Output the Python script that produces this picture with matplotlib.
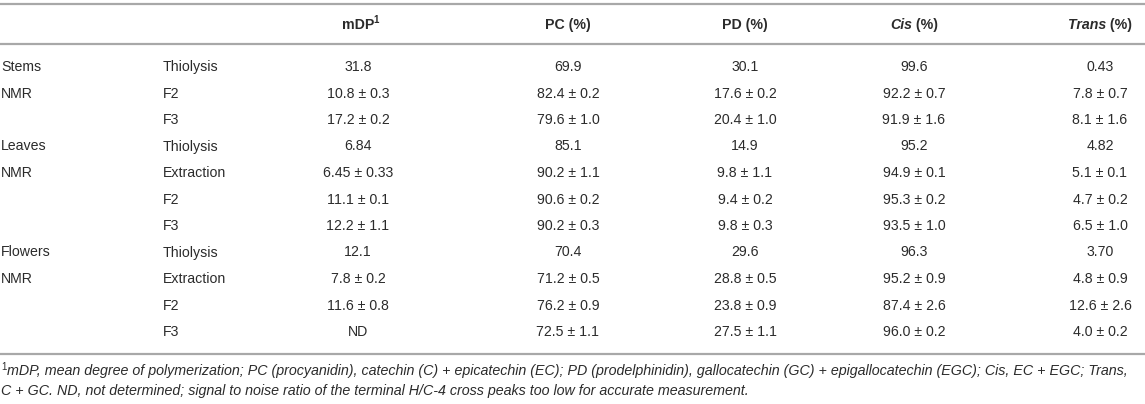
import matplotlib
matplotlib.use("Agg")
import matplotlib.pyplot as plt

plt.rcParams['font.family'] = ['Liberation Sans', 'DejaVu Sans']

groups = ["Stems", "NMR", "", "Leaves", "NMR", "", "", "Flowers", "NMR", "", ""]
methods = ["Thiolysis", "F2", "F3", "Thiolysis", "Extraction", "F2", "F3",
           "Thiolysis", "Extraction", "F2", "F3"]
mdp = ["31.8", "10.8 ± 0.3", "17.2 ± 0.2", "6.84", "6.45 ± 0.33", "11.1 ± 0.1",
       "12.2 ± 1.1", "12.1", "7.8 ± 0.2", "11.6 ± 0.8", "ND"]
pc = ["69.9", "82.4 ± 0.2", "79.6 ± 1.0", "85.1", "90.2 ± 1.1", "90.6 ± 0.2",
      "90.2 ± 0.3", "70.4", "71.2 ± 0.5", "76.2 ± 0.9", "72.5 ± 1.1"]
pd_ = ["30.1", "17.6 ± 0.2", "20.4 ± 1.0", "14.9", "9.8 ± 1.1", "9.4 ± 0.2",
       "9.8 ± 0.3", "29.6", "28.8 ± 0.5", "23.8 ± 0.9", "27.5 ± 1.1"]
cis = ["99.6", "92.2 ± 0.7", "91.9 ± 1.6", "95.2", "94.9 ± 0.1", "95.3 ± 0.2",
       "93.5 ± 1.0", "96.3", "95.2 ± 0.9", "87.4 ± 2.6", "96.0 ± 0.2"]
trans = ["0.43", "7.8 ± 0.7", "8.1 ± 1.6", "4.82", "5.1 ± 0.1", "4.7 ± 0.2",
         "6.5 ± 1.0", "3.70", "4.8 ± 0.9", "12.6 ± 2.6", "4.0 ± 0.2"]
footnote1 = ("mDP, mean degree of polymerization; PC (procyanidin), catechin (C) + epicatechin (EC); "
             "PD (prodelphinidin), gallocatechin (GC) + epigallocatechin (EGC); Cis, EC + EGC; Trans,")
footnote2 = ("C + GC. ND, not determined; signal to noise ratio of the terminal H/C-4 cross peaks "
             "too low for accurate measurement.")

W, H = 1145, 404
fig = plt.figure(figsize=(W / 100, H / 100), dpi=100)
ax = fig.add_axes([0, 0, 1, 1])
ax.set_xlim(0, W)
ax.set_ylim(H, 0)
ax.axis('off')

TXT = '#2b2b2b'
LINE = '#a8a8a8'
FS = 10.2

for y in (4, 44, 354):
    ax.plot([0, W], [y, y], color=LINE, lw=1.6, solid_capstyle='butt')

renderer = fig.canvas.get_renderer()


def segments(x, y, segs, fs=FS):
    """Draw centered text composed of (text, style) segments."""
    arts = []
    for s, style in segs:
        t = ax.text(0, y, s, fontsize=fs, fontweight='bold', fontstyle=style,
                    color=TXT, va='center', ha='left')
        arts.append(t)
    widths = []
    inv = ax.transData.inverted()
    for t in arts:
        bb = t.get_window_extent(renderer)
        p0 = inv.transform((bb.x0, bb.y0))
        p1 = inv.transform((bb.x1, bb.y0))
        widths.append(p1[0] - p0[0])
    total = sum(widths)
    cx = x - total / 2
    for t, w in zip(arts, widths):
        t.set_x(cx)
        cx += w


col_x = [358, 568, 745, 914, 1100]
hy = 25
segments(col_x[0], hy, [("mDP", 'normal')])
ax.text(col_x[0] + 15, hy - 5, "1", fontsize=7, fontweight='bold', color=TXT,
        va='center', ha='left')
segments(col_x[1], hy, [("PC (%)", 'normal')])
segments(col_x[2], hy, [("PD (%)", 'normal')])
segments(col_x[3], hy, [("Cis", 'italic'), (" (%)", 'normal')])
segments(col_x[4], hy, [("Trans", 'italic'), (" (%)", 'normal')])

y0, dy = 67, 26.5
for i in range(len(methods)):
    y = y0 + i * dy
    ax.text(1, y, groups[i], fontsize=FS, color=TXT, va='center', ha='left')
    ax.text(163, y, methods[i], fontsize=FS, color=TXT, va='center', ha='left')
    for cx, col in zip(col_x, (mdp, pc, pd_, cis, trans)):
        ax.text(cx, y, col[i], fontsize=FS, color=TXT, va='center', ha='center')

ax.text(1, 367, "1", fontsize=7, color=TXT, va='center', ha='left')
ax.text(7, 371, footnote1, fontsize=10.25, fontstyle='italic', color=TXT, va='center', ha='left')
ax.text(1, 391, footnote2, fontsize=10.25, fontstyle='italic', color=TXT, va='center', ha='left')

fig.savefig("out.png", dpi=100)
